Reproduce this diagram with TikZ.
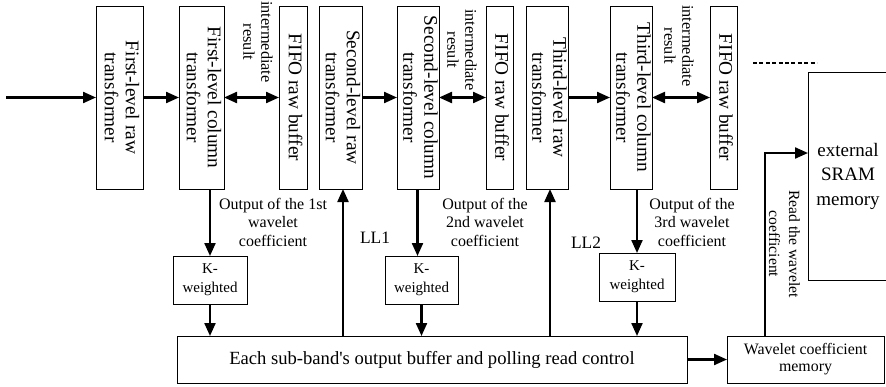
\documentclass[tikz,border=0pt]{standalone}
\usepackage{fontspec}
\setmainfont{Liberation Serif}[Ligatures=TeXOff]
\usetikzlibrary{arrows.meta,calc}
\newcommand\vtext[1]{\rotatebox{-90}{\begin{tabular}{@{}c@{}}#1\end{tabular}}}
\begin{document}
\begin{tikzpicture}[x=1pt,y=-1pt,
  box/.style={draw, line width=0.9pt, inner sep=0pt, outer sep=0pt, anchor=north west},
  tall/.style={box, minimum height=183pt, font=\fontsize{19.3}{21}\selectfont},
  kbox/.style={box, minimum height=48pt, align=center, font=\fontsize{15}{19}\selectfont},
  lbl/.style={align=center, inner sep=0pt, font=\fontsize{16}{18.5}\selectfont},
  small/.style={inner sep=0pt, font=\fontsize{16.3}{18}\selectfont},
  arr/.style={line width=2.2pt, -{Triangle[length=13pt,width=11pt]}},
  darr/.style={line width=2.2pt, {Triangle[length=13pt,width=11pt]}-{Triangle[length=13pt,width=11pt]}}
]
\useasboundingbox (0,0) rectangle (886,386);
\clip (0,0) rectangle (886,386);
% top row
\node[tall, minimum width=47pt] (r1) at (96,6) {\vtext{First-level raw\\transformer}};
\node[tall, minimum width=45pt] (c1) at (179,6) {\vtext{First-level column\\transformer}};
\node[tall, minimum width=28pt] (f1) at (279,6) {\vtext{FIFO raw buffer}};
\node[tall, minimum width=43pt] (r2) at (319,6) {\vtext{Second-level raw\\transformer}};
\node[tall, minimum width=41pt] (c2) at (397,6) {\vtext{Second-level column\\transformer}};
\node[tall, minimum width=27pt] (f2) at (486,6) {\vtext{FIFO raw buffer}};
\node[tall, minimum width=42pt] (r3) at (526,6) {\vtext{Third-level raw\\transformer}};
\node[tall, minimum width=41pt] (c3) at (610,6) {\vtext{Third-level column\\transformer}};
\node[tall, minimum width=27pt] (f3) at (710,6) {\vtext{FIFO raw buffer}};
% intermediate labels
\node[small] (i1) at (256,42) {\vtext{intermediate\\result}};
\node[small] (i2) at (460,50) {\vtext{intermediate\\result}};
\node[small] (i3) at (677,46) {\vtext{intermediate\\result}};
% K boxes
\node[kbox, minimum width=74pt] (k1) at (173,256) {K-\\weighted};
\node[kbox, minimum width=73pt] (k2) at (385,256) {K-\\weighted};
\node[kbox, minimum width=76pt] (k3) at (599,253) {K-\\weighted};
% bottom boxes
\node[box, minimum width=510pt, minimum height=47pt, font=\fontsize{18.6}{21}\selectfont] (big) at (177,336) {Each sub-band's output buffer and polling read control};
\node[box, minimum width=157pt, minimum height=47pt, align=center, font=\fontsize{15.9}{17}\selectfont] (wcm) at (727,336) {Wavelet coefficient\\memory};
\node[inner sep=0pt, outer sep=0pt, minimum width=80pt, minimum height=208pt, anchor=north west, align=center, font=\fontsize{19}{24.5}\selectfont] (sram) at (808,72) {external\\SRAM\\memory};
\draw[line width=0.9pt] (sram.north east) -- (sram.north west) -- (sram.south west) -- (sram.south east);
% labels
\node[lbl] (o1) at (273,222) {Output of the 1st\\wavelet\\coefficient};
\node[lbl] (o2) at (485,222) {Output of the\\2nd wavelet\\coefficient};
\node[lbl] (o3) at (692,222) {Output of the\\3rd wavelet\\coefficient};
\node[inner sep=0pt, font=\fontsize{17.4}{20}\selectfont] (ll1) at (375,238) {LL1};
\node[inner sep=0pt, font=\fontsize{17.4}{20}\selectfont] (ll2) at (586,243) {LL2};
\node[inner sep=0pt, font=\fontsize{15.6}{20}\selectfont] (rd) at (783,244) {\vtext{Read the wavelet\\coefficient}};
% dashed continuation
\draw[line width=1.6pt, dash pattern=on 4pt off 2.4pt] (753,63) -- (817,63);
% arrows top
\coordinate (in) at (6,97.5);
\draw[arr] (in) -- (r1.west);
\draw[arr] (r1.east) -- (c1.west);
\draw[darr] (c1.east) -- (f1.west);
\draw[arr] (r2.east) -- (c2.west);
\draw[darr] (c2.east) -- (f2.west);
\draw[arr] (r3.east) -- (c3.west);
\draw[darr] (c3.east) -- (f3.west);
% down arrows
\draw[arr] (c1.south -| k1.north) -- (k1.north);
\draw[arr] ([xshift=-4pt]c2.south -| k2.north) -- ([xshift=-4pt]k2.north);
\draw[arr] (c3.south -| k3.north) -- (k3.north);
\draw[arr] (k1.south) -- (k1.south |- big.north);
\draw[arr] (k2.south) -- (k2.south |- big.north);
\draw[arr] (k3.south) -- (k3.south |- big.north);
% up arrows
\draw[arr] ([xshift=2.5pt]big.north -| r2.south) -- ([xshift=2.5pt]r2.south);
\draw[arr] ([xshift=3pt]big.north -| r3.south) -- ([xshift=3pt]r3.south);
% to memory
\draw[arr] (big.east) -- (wcm.west);
\coordinate (rdc) at (765,153);
\draw[arr] (wcm.north -| rdc) |- (sram.west |- rdc);
\end{tikzpicture}
\end{document}
